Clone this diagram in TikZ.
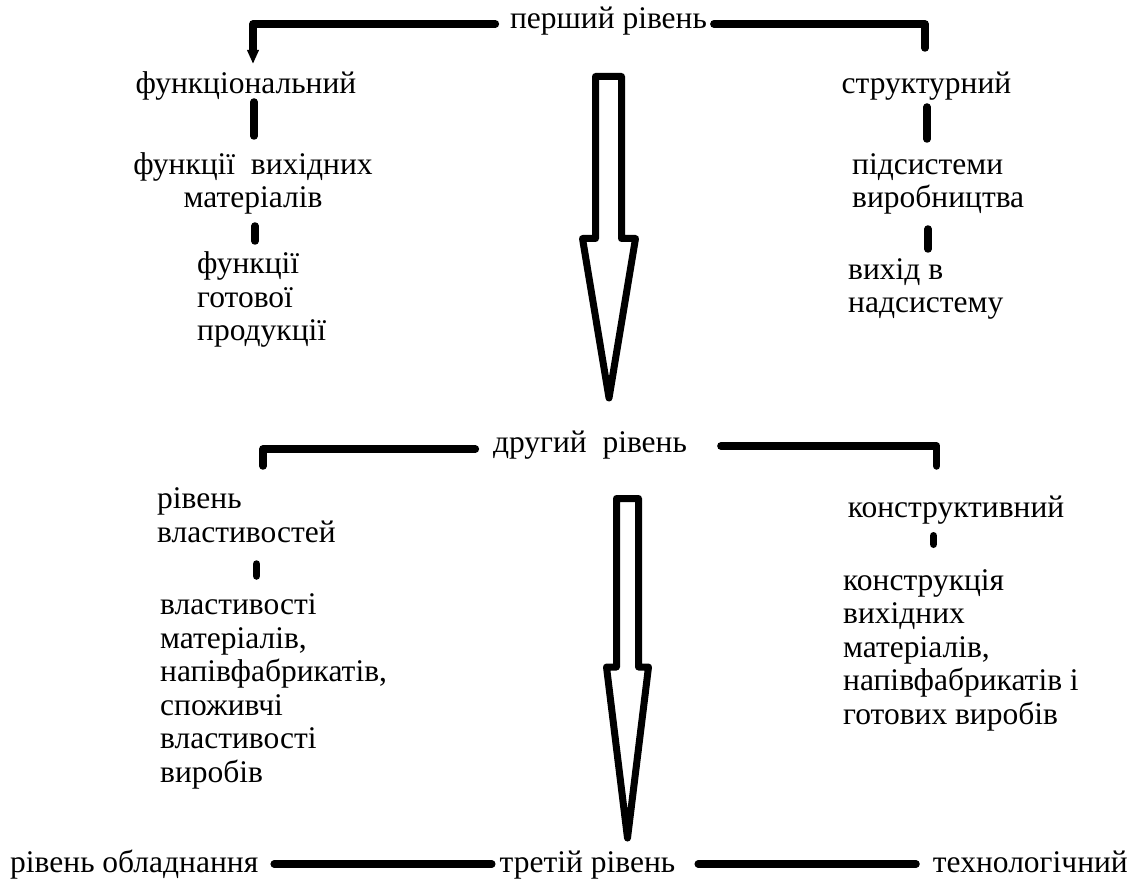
\documentclass[tikz,border=0pt]{standalone}
\usepackage{fontspec}
\setmainfont{Liberation Serif}
\newfontfamily\uafont{Liberation Serif}
\usetikzlibrary{arrows.meta}
\begin{document}
\begin{tikzpicture}[x=1pt,y=-1pt,
  lbl/.style={font=\uafont\fontsize{31.5}{33.5}\selectfont,inner sep=0pt,anchor=base},
  lblw/.style={lbl,anchor=base west,align=left},
  link/.style={line width=7.5pt,line cap=round,line join=round},
  hollow/.style={line width=7pt,line join=round}]
\useasboundingbox (0,0) rectangle (1140,882);
\node [lbl] (l1) at (608.5,29) {перший рівень};
\node [lbl] (f1) at (246,94) {функціональний};
\node [lbl,align=center] (f2) at (253,208) {функції\ \ вихідних\\матеріалів};
\node [lblw] (f3) at (197,341) {функції\\готової\\продукції};
\node [lbl] (s1) at (926.5,94) {структурний};
\node [lblw] (s2) at (852,208) {підсистеми\\виробництва};
\node [lblw] (s3) at (848,313) {вихід в\\надсистему};
\node [lbl] (l2) at (590,452) {другий\ \ рівень};
\node [lblw] (p1) at (157,542) {рівень\\властивостей};
\node [lblw] (p2) at (160,782) {властивості\\матеріалів,\\напівфабрикатів,\\споживчі\\властивості\\виробів};
\node [lbl] (k1) at (956,517) {конструктивний};
\node [lblw] (k2) at (843,724) {конструкція\\вихідних\\матеріалів,\\напівфабрикатів і\\готових виробів};
\node [lbl] (l3) at (587.5,872) {третій рівень};
\node [lblw] (e1) at (10,872) {рівень обладнання};
\node [lbl,anchor=base east] (t1) at (1128,872) {технологічний};
\draw [link,-{Triangle[width=11pt,length=14pt]}] ([xshift=-14.5pt,yshift=5pt]l1.base west) -| ([xshift=7pt,yshift=30pt]f1.base);
\draw [link] ([xshift=6.75pt,yshift=5pt]l1.base east) -| ([xshift=-1.5pt,yshift=46pt]s1.base);
\draw [link] ([xshift=8pt,yshift=-8pt]f1.base) -- ([xshift=8pt,yshift=-42pt]f1.base);
\draw [link] ([xshift=2pt,yshift=-18pt]f2.base) -- ([xshift=2pt,yshift=-33pt]f2.base);
\draw [link] ([xshift=0.5pt,yshift=-13pt]s1.base) -- ([xshift=0.5pt,yshift=-45pt]s1.base);
\draw [link] ([xshift=76pt,yshift=-21pt]s2.base west) -- ([xshift=76pt,yshift=-41pt]s2.base west);
\draw [link] ([xshift=-17.5pt,yshift=3pt]l2.base west) -| ([xshift=106pt,yshift=76pt]p1.base west);
\draw [link] ([xshift=33.75pt,yshift=6pt]l2.base east) -| ([xshift=-19.3pt,yshift=51pt]k1.base);
\draw [link] ([xshift=99.5pt,yshift=-22pt]p1.base west) -- ([xshift=99.5pt,yshift=-34pt]p1.base west);
\draw [link] ([xshift=-22.5pt,yshift=-18.75pt]k1.base) -- ([xshift=-22.5pt,yshift=-27.25pt]k1.base);
\draw [link] ([xshift=15.75pt,yshift=8pt]e1.base east) -- ([xshift=-7.75pt,yshift=8pt]l3.base west);
\draw [link] ([xshift=22.75pt,yshift=8pt]l3.base east) -- ([xshift=-16.75pt,yshift=8pt]t1.base west);
\draw [hollow] (595.5,76.5) -- (621.5,76.5) -- (621.5,238.5) -- (635.5,238.5) -- (609,398)
  -- (582.5,238.5) -- (595.5,238.5) -- cycle;
\draw [hollow] (616.5,498.5) -- (638.5,498.5) -- (638.5,667) -- (648.5,667) -- (627.5,838)
  -- (606.5,667) -- (616.5,667) -- cycle;
\end{tikzpicture}
\end{document}
